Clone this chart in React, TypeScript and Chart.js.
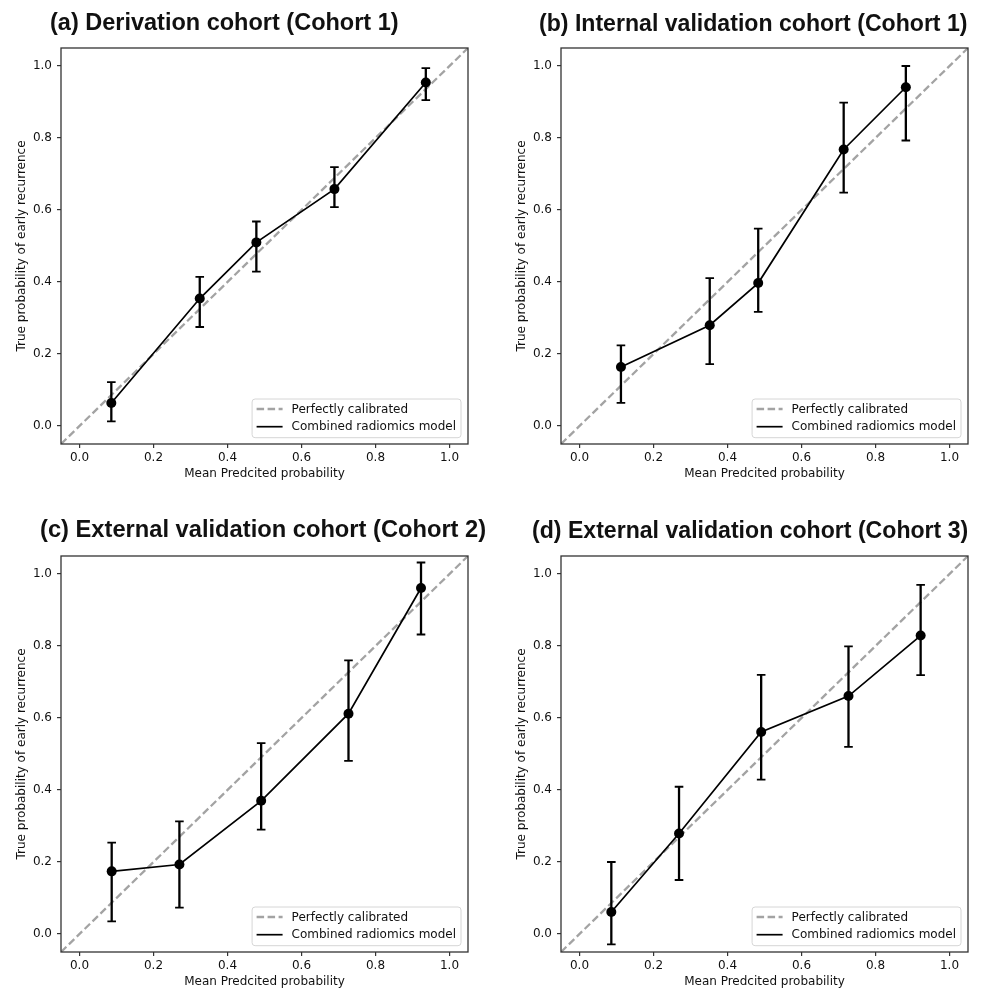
import React, { useEffect, useRef } from "react";
import { Chart, registerables } from "chart.js";

Chart.register(...registerables);

// ---------- data ----------
const tickValues = [0, 0.2, 0.4, 0.6, 0.8, 1.0];
const axisMin = -0.05;
const axisMax = 1.05;
const diagonal = [-0.05, 1.05];

const legendLabels = ["Perfectly calibrated", "Combined radiomics model"];
const xAxisTitle = "Mean Predcited probability";
const yAxisTitle = "True probability of early recurrence";

const panelTitles = [
  "(a) Derivation cohort (Cohort 1)",
  "(b) Internal validation cohort (Cohort 1)",
  "(c) External validation cohort (Cohort 2)",
  "(d) External validation cohort (Cohort 3)",
];

const predA = [0.086, 0.325, 0.478, 0.689, 0.936];
const trueA = [0.064, 0.354, 0.51, 0.658, 0.954];
const lowA = [0.013, 0.275, 0.429, 0.608, 0.905];
const highA = [0.122, 0.414, 0.568, 0.719, 0.994];

const predB = [0.112, 0.352, 0.483, 0.714, 0.882];
const trueB = [0.164, 0.28, 0.397, 0.768, 0.941];
const lowB = [0.064, 0.172, 0.317, 0.648, 0.793];
const highB = [0.224, 0.411, 0.548, 0.898, 1.0];

const predC = [0.087, 0.27, 0.491, 0.727, 0.923];
const trueC = [0.174, 0.193, 0.37, 0.612, 0.961];
const lowC = [0.035, 0.073, 0.29, 0.481, 0.832];
const highC = [0.254, 0.313, 0.53, 0.76, 1.032];

const predD = [0.086, 0.269, 0.491, 0.727, 0.922];
const trueD = [0.061, 0.279, 0.561, 0.661, 0.829];
const lowD = [-0.029, 0.15, 0.429, 0.52, 0.719];
const highD = [0.2, 0.409, 0.72, 0.799, 0.97];

// ---------- layout ----------
const FONT = '"DejaVu Sans", "Noto Sans", sans-serif';
const TEXT = "#111111";
const AXIS = "#333333";

type Panel = {
  title: string;
  left: number;
  top: number;
  width: number;
  titleLeft: number;
  titleBaseline: number;
  titleSize: number;
  pred: number[];
  obs: number[];
  low: number[];
  high: number[];
};

const panels: Panel[] = [
  { title: panelTitles[0], left: 0, top: 0, width: 490, titleLeft: 50, titleBaseline: 31, titleSize: 23.5, pred: predA, obs: trueA, low: lowA, high: highA },
  { title: panelTitles[1], left: 500, top: 0, width: 483, titleLeft: 539, titleBaseline: 31, titleSize: 23.1, pred: predB, obs: trueB, low: lowB, high: highB },
  { title: panelTitles[2], left: 0, top: 508, width: 490, titleLeft: 40, titleBaseline: 538, titleSize: 23.7, pred: predC, obs: trueC, low: lowC, high: highC },
  { title: panelTitles[3], left: 500, top: 508, width: 483, titleLeft: 532, titleBaseline: 538, titleSize: 23.1, pred: predD, obs: trueD, low: lowD, high: highD },
];

const CANVAS_H = 482;

// ---------- plugins ----------
const errorBarPlugin = {
  id: "errorBars",
  afterDatasetDraw(chart: any, args: any, opts: any) {
    if (args.index !== 0 || !opts || !opts.x) return;
    const { ctx, scales } = chart;
    const xs = scales.x;
    const ys = scales.y;
    ctx.save();
    ctx.strokeStyle = "#000";
    ctx.lineWidth = 2.3;
    const cap = 4.3;
    for (let i = 0; i < opts.x.length; i++) {
      const px = xs.getPixelForValue(opts.x[i]);
      const pl = ys.getPixelForValue(opts.low[i]);
      const ph = ys.getPixelForValue(opts.high[i]);
      ctx.beginPath();
      ctx.moveTo(px, pl);
      ctx.lineTo(px, ph);
      ctx.stroke();
      ctx.lineWidth = 1.8;
      ctx.beginPath();
      ctx.moveTo(px - cap, pl);
      ctx.lineTo(px + cap, pl);
      ctx.moveTo(px - cap, ph);
      ctx.lineTo(px + cap, ph);
      ctx.stroke();
      ctx.lineWidth = 2.3;
    }
    ctx.restore();
  },
};

const framePlugin = {
  id: "frame",
  afterDatasetsDraw(chart: any) {
    const { ctx, chartArea } = chart;
    ctx.save();
    ctx.strokeStyle = AXIS;
    ctx.lineWidth = 1.3;
    ctx.strokeRect(chartArea.left, chartArea.top, chartArea.right - chartArea.left, chartArea.bottom - chartArea.top);
    ctx.restore();
  },
};

const insetLegendPlugin = {
  id: "insetLegend",
  afterDraw(chart: any) {
    const { ctx, chartArea } = chart;
    const ds = chart.data.datasets;
    ctx.save();
    ctx.font = `12px ${FONT}`;
    const textW = Math.max(...ds.map((d: any) => ctx.measureText(d.label).width));
    const w = 39.5 + textW + 5;
    const h = 38.7;
    const x = chartArea.right - 7 - w;
    const y = chartArea.bottom - 6.3 - h;
    const r = 3;
    ctx.beginPath();
    ctx.moveTo(x + r, y);
    ctx.lineTo(x + w - r, y);
    ctx.arcTo(x + w, y, x + w, y + r, r);
    ctx.lineTo(x + w, y + h - r);
    ctx.arcTo(x + w, y + h, x + w - r, y + h, r);
    ctx.lineTo(x + r, y + h);
    ctx.arcTo(x, y + h, x, y + h - r, r);
    ctx.lineTo(x, y + r);
    ctx.arcTo(x, y, x + r, y, r);
    ctx.closePath();
    ctx.fillStyle = "rgba(255,255,255,0.8)";
    ctx.fill();
    ctx.strokeStyle = "#d6d6d6";
    ctx.lineWidth = 1;
    ctx.stroke();
    ds.forEach((d: any, i: number) => {
      const cy = y + 10 + i * 17.7;
      ctx.beginPath();
      ctx.setLineDash(d.borderDash || []);
      ctx.strokeStyle = d.borderColor;
      ctx.lineWidth = d.borderWidth;
      ctx.moveTo(x + 4.5, cy);
      ctx.lineTo(x + 30.5, cy);
      ctx.stroke();
      ctx.setLineDash([]);
      ctx.fillStyle = TEXT;
      ctx.textBaseline = "middle";
      ctx.textAlign = "left";
      ctx.fillText(d.label, x + 39.5, cy + 0.5);
    });
    ctx.restore();
  },
};

// ---------- components ----------
function CalibrationPanel({ p }: { p: Panel }) {
  const ref = useRef<HTMLCanvasElement | null>(null);

  useEffect(() => {
    if (!ref.current) return;
    const chart = new Chart(ref.current, {
      type: "scatter",
      data: {
        datasets: [
          {
            label: legendLabels[0],
            data: diagonal.map((v) => ({ x: v, y: v })),
            showLine: true,
            borderColor: "#a3a3a3",
            borderWidth: 2.3,
            borderDash: [7.5, 3.5],
            pointRadius: 0,
            order: 1,
          } as any,
          {
            label: legendLabels[1],
            data: p.pred.map((x, i) => ({ x, y: p.obs[i] })),
            showLine: true,
            borderColor: "#000",
            borderWidth: 1.7,
            pointRadius: 5,
            pointBackgroundColor: "#000",
            pointBorderColor: "#000",
            pointBorderWidth: 0,
            tension: 0,
            order: 0,
          } as any,
        ],
      },
      options: {
        animation: false,
        responsive: false,
        events: [],
        layout: {
          padding: { left: 8, top: 48, right: p.width - 468, bottom: 0 },
        },
        plugins: {
          legend: { display: false },
          tooltip: { enabled: false },
          title: { display: false },
          errorBars: { x: p.pred, low: p.low, high: p.high },
        } as any,
        scales: {
          x: {
            type: "linear",
            min: axisMin,
            max: axisMax,
            afterBuildTicks: (s: any) => {
              s.ticks = tickValues.map((v) => ({ value: v }));
            },
            afterFit: (s: any) => {
              s.height = 38;
            },
            ticks: {
              callback: (v: any) => Number(v).toFixed(1),
              font: { family: FONT, size: 12 },
              color: TEXT,
              padding: 3,
              maxRotation: 0,
              autoSkip: false,
            },
            grid: { drawOnChartArea: false, drawTicks: true, tickLength: 4, color: AXIS, lineWidth: 1.2 },
            border: { display: false },
            title: {
              display: true,
              text: xAxisTitle,
              font: { family: FONT, size: 12 },
              color: TEXT,
              padding: { top: 0, bottom: 1 },
            },
          },
          y: {
            type: "linear",
            min: axisMin,
            max: axisMax,
            afterBuildTicks: (s: any) => {
              s.ticks = tickValues.map((v) => ({ value: v }));
            },
            afterFit: (s: any) => {
              s.width = 53;
            },
            ticks: {
              callback: (v: any) => Number(v).toFixed(1),
              font: { family: FONT, size: 12 },
              color: TEXT,
              padding: 5,
              autoSkip: false,
            },
            grid: { drawOnChartArea: false, drawTicks: true, tickLength: 4, color: AXIS, lineWidth: 1.2 },
            border: { display: false },
            title: {
              display: true,
              text: yAxisTitle,
              font: { family: FONT, size: 12 },
              color: TEXT,
              padding: { top: 7, bottom: 0 },
            },
          },
        },
      } as any,
      plugins: [errorBarPlugin, framePlugin, insetLegendPlugin],
    });
    return () => chart.destroy();
  }, [p]);

  return (
    <>
      <canvas
        ref={ref}
        width={p.width}
        height={CANVAS_H}
        style={{ position: "absolute", left: p.left, top: p.top, width: p.width, height: CANVAS_H }}
      />
      <div
        style={{
          position: "absolute",
          left: p.titleLeft,
          top: p.titleBaseline - 0.843 * p.titleSize,
          fontFamily: '"Liberation Sans", Arial, Helvetica, sans-serif',
          fontWeight: 700,
          fontSize: p.titleSize,
          lineHeight: `${p.titleSize}px`,
          color: "#111",
          whiteSpace: "nowrap",
        }}
      >
        {p.title}
      </div>
    </>
  );
}

export default function App() {
  return (
    <div
      style={{
        position: "absolute",
        left: 0,
        top: 0,
        width: 983,
        height: 990,
        overflow: "hidden",
        background: "#fff",
      }}
    >
      {panels.map((p, i) => (
        <CalibrationPanel key={i} p={p} />
      ))}
    </div>
  );
}
